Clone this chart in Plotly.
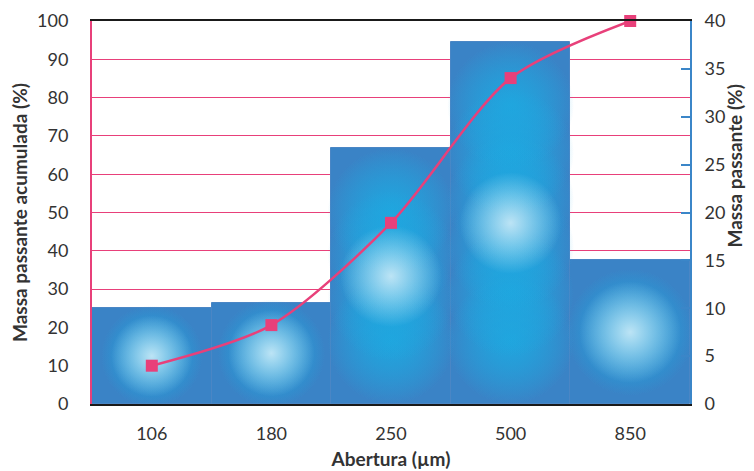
import math
import plotly.graph_objects as go

categories = ["106", "180", "250", "500", "850"]
massa_passante = [10.0, 10.6, 26.7, 37.8, 15.0]        # right axis (%)
massa_acumulada = [10.0, 20.6, 47.3, 85.1, 100.0]     # left axis (%)
left_ticks = [0, 10, 20, 30, 40, 50, 60, 70, 80, 90, 100]
right_ticks = [0, 5, 10, 15, 20, 25, 30, 35, 40]

PINK = "#e8407a"
BLUE_AX = "#3b86c8"
BAR = "#3a83c6"
FONT = "Lato"

# ---- decorative glow (radial gradient look) derived from bar values ----
PPU = 383 / 40.0        # plot pixels per right-axis unit
BAR_W = 119.6           # bar width in pixels
cyan_x, cyan_y, cyan_s = [], [], []
white_x, white_y, white_s = [], [], []
for cat, v in zip(categories, massa_passante):
    h = v * PPU
    d = min(BAR_W * 1.06, h * 1.06)
    if h - d < 20:
        centres = [h / 2]
    else:
        n = math.ceil((h - d) / (d * 0.45)) + 1
        centres = [d / 2 + i * (h - d) / (n - 1) for i in range(n)]
    for c in centres:
        cyan_x.append(cat)
        cyan_y.append(c / PPU)
        cyan_s.append(d)
    white_x.append(cat)
    white_y.append(v / 2)
    white_s.append(min(BAR_W, h) * 0.85)

fig = go.Figure()
fig.add_trace(go.Bar(
    x=categories, y=massa_passante, yaxis="y", width=1,
    marker=dict(color=BAR, line=dict(color="#4a86c5", width=1)),
    showlegend=False, hoverinfo="skip"))
for _ in range(2):
    fig.add_trace(go.Scatter(
        x=cyan_x, y=cyan_y, yaxis="y", mode="markers",
        marker=dict(symbol="circle", size=cyan_s, color="rgba(30,168,224,0)",
                    gradient=dict(type="radial", color="rgba(30,168,224,1)"),
                    line=dict(width=0)),
        showlegend=False, hoverinfo="skip"))
fig.add_trace(go.Scatter(
    x=white_x, y=white_y, yaxis="y", mode="markers",
    marker=dict(symbol="circle", size=white_s,
                color="rgba(255,255,255,0)",
                gradient=dict(type="radial", color="rgba(255,255,255,1)"),
                line=dict(width=0)),
    showlegend=False, hoverinfo="skip"))
fig.add_trace(go.Scatter(
    x=categories, y=massa_acumulada, yaxis="y2", mode="lines+markers",
    line=dict(color=PINK, width=2.5, shape="spline", smoothing=0.8),
    marker=dict(symbol="square", size=12, color=PINK),
    showlegend=False, cliponaxis=False))

fig.update_layout(
    width=746, height=463,
    margin=dict(l=84, r=64, t=13, b=67),
    paper_bgcolor="white", plot_bgcolor="white",
    bargap=0,
    font=dict(family=FONT, size=18, color="#333333"),
    xaxis=dict(type="category", range=[-0.5, 4.5], showgrid=False, automargin=False,
               showline=True, linecolor="#1a1a1a", linewidth=2, mirror=True,
               ticks="", ticklabelstandoff=12,
               title=dict(text="<b>Abertura (µm)</b>", standoff=10,
                          font=dict(size=19, color="#333333"))),
    yaxis=dict(side="right", range=[0, 40], tickvals=right_ticks, automargin=False,
               showgrid=False, zeroline=False,
               showline=True, linecolor=BLUE_AX, linewidth=2,
               ticks="inside", ticklen=9, tickwidth=2, tickcolor=BLUE_AX,
               ticklabelstandoff=9),
    yaxis2=dict(side="left", overlaying="y", range=[0, 100], tickvals=left_ticks,
                automargin=False,
                showgrid=True, gridcolor=PINK, gridwidth=1.2, zeroline=False,
                showline=True, linecolor=PINK, linewidth=2, ticks="",
                ticklabelstandoff=18,
                title=dict(text="<b>Massa passante acumulada (%)</b>", standoff=11,
                           font=dict(size=19, color="#333333"))),
    annotations=[dict(text="<b>Massa passante (%)</b>", textangle=-90,
                      xref="paper", yref="paper", x=1, y=0.62,
                      xshift=45, showarrow=False, xanchor="center", yanchor="middle",
                      font=dict(family=FONT, size=19, color="#333333"))],
)

fig.write_html("out.html")
